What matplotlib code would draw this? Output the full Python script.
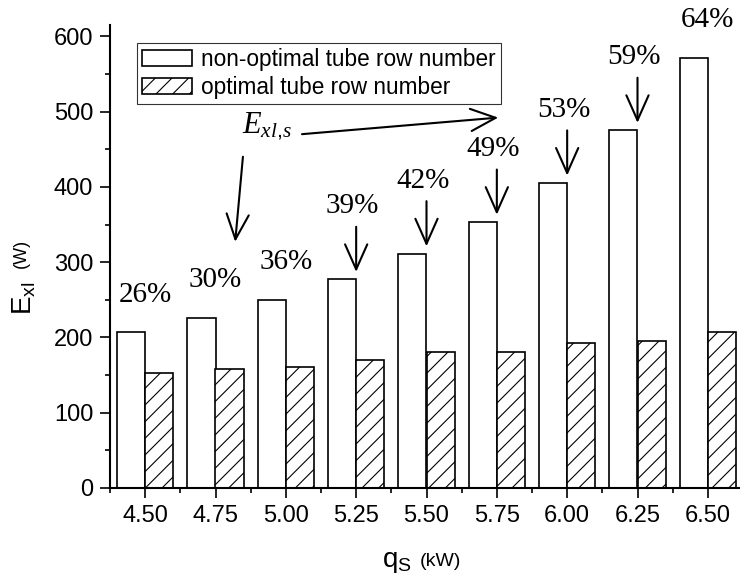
import numpy as np
import matplotlib
matplotlib.use("Agg")
import matplotlib.pyplot as plt

# heat load q_s (kW) and exergy loss E_xl (W)
qs_labels = ["4.50", "4.75", "5.00", "5.25", "5.50", "5.75", "6.00", "6.25", "6.50"]
non_optimal = [207, 226, 250, 277, 311, 353, 405, 475, 571]
optimal = [153, 158, 161, 170, 180, 181, 192, 195, 207]
reduction = ["26%", "30%", "36%", "39%", "42%", "49%", "53%", "59%", "64%"]
has_arrow = [False, False, False, True, True, True, True, True, False]

plt.rcParams["font.family"] = "Liberation Sans"
plt.rcParams["mathtext.fontset"] = "custom"
plt.rcParams["mathtext.rm"] = "Liberation Sans"
plt.rcParams["mathtext.it"] = "Liberation Serif:italic"
plt.rcParams["hatch.linewidth"] = 0.8

fig = plt.figure(figsize=(7.4, 5.79), dpi=100)
ax = fig.add_axes([110/740, 91/579, 633/740, 463/579])

x = np.arange(len(qs_labels))
w = 0.4
ax.bar(x - w/2, non_optimal, w, facecolor="white", edgecolor="black",
       linewidth=1.2, label="non-optimal tube row number")
ax.bar(x + w/2, optimal, w, facecolor="white", edgecolor="black",
       linewidth=1.2, hatch="//", label="optimal tube row number")

ax.set_xlim(-0.5, 8.5)
ax.set_ylim(0, 615)
ax.set_xticks(x)
ax.set_xticklabels(qs_labels)
ax.set_xticks(np.arange(-0.5, 9, 1), minor=True)
ax.set_yticks(np.arange(0, 601, 100))
ax.set_yticks(np.arange(50, 600, 100), minor=True)
ax.tick_params(which="major", length=7, width=1.2, labelsize=17, pad=5)
ax.tick_params(which="minor", length=3.6, width=1.2)
for s in ["top", "right"]:
    ax.spines[s].set_visible(False)
for s in ["left", "bottom"]:
    ax.spines[s].set_linewidth(1.5)

arrow = dict(arrowstyle="->,head_length=0.9,head_width=0.4",
             lw=1.5, color="black", mutation_scale=20, shrinkA=0, shrinkB=0)

# percentage labels, some with arrows pointing at the bar
for i in range(len(x)):
    top = non_optimal[i]
    if has_arrow[i]:
        ax.annotate("", xy=(x[i], top + 10), xytext=(x[i], top + 70), arrowprops=arrow)
        ax.text(x[i] - 0.05, top + 97, reduction[i], ha="center", va="center",
                fontsize=21, family="Liberation Serif", clip_on=False)
    else:
        ax.text(x[i], top + 50, reduction[i], ha="center", va="center",
                fontsize=21, family="Liberation Serif", clip_on=False)

# E_xl,s label with two arrows
ax.text(1.73, 480, r"$E_{xl{,}s}$", ha="center", va="center", fontsize=22)
ax.annotate("", xy=(5.02, 492), xytext=(2.23, 470), arrowprops=arrow)
ax.annotate("", xy=(1.28, 327), xytext=(1.39, 440), arrowprops=arrow)

leg = ax.legend(loc="upper left", bbox_to_anchor=(0.0427, 0.961), borderaxespad=0,
                fontsize=16.3, fancybox=False, frameon=True, handlelength=2.2,
                handleheight=0.72, handletextpad=0.42, borderpad=0.22, labelspacing=0.22)
leg.get_frame().set_edgecolor("black")
leg.get_frame().set_linewidth(0.8)

# axis labels with smaller unit text
fig.text(24/740, 1 - 315/579, r"$\mathrm{E_{xl}}$", rotation=90, ha="center",
         va="bottom", fontsize=20)
fig.text(21/740, 1 - 268/579, "(W)", rotation=90, ha="center", va="bottom", fontsize=13)
fig.text(382/740, 1 - 567/579, r"$\mathrm{q_S}$", ha="left", va="baseline", fontsize=20)
fig.text(420/740, 1 - 566/579, "(kW)", ha="left", va="baseline", fontsize=14)

fig.savefig("out.png", dpi=100)
